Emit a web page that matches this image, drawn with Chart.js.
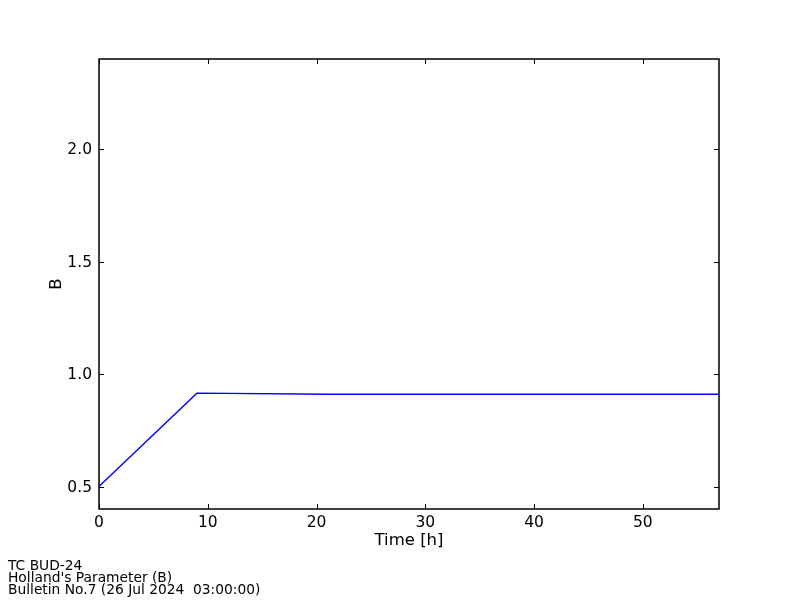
<!DOCTYPE html>
<html>
<head>
<meta charset="utf-8">
<script src="https://cdn.jsdelivr.net/npm/chart.js@4/dist/chart.umd.min.js"></script>
<style>
  html, body { margin: 0; padding: 0; background: #ffffff; }
  #wrap { width: 800px; height: 600px; position: relative; }
</style>
</head>
<body>
<div id="wrap"><canvas id="c" width="800" height="600"></canvas></div>
<script>
// ---- data ----
const timeHours = [0, 9, 21, 33, 45, 57];
const hollandB  = [0.50, 0.915, 0.91, 0.91, 0.91, 0.91];
const xTickValues = [0, 10, 20, 30, 40, 50];
const yTickValues = [0.5, 1.0, 1.5, 2.0];
const yTickLabels = ["0.5", "1.0", "1.5", "2.0"];
const xAxisTitle = "Time [h]";
const yAxisTitle = "B";
const footerLines = ["TC BUD-24", "Holland's Parameter (B)", "Bulletin No.7 (26 Jul 2024  03:00:00)"];

const FONT = "'DejaVu Sans', sans-serif";

const framePlugin = {
  id: 'frame',
  afterDatasetsDraw(chart) {
    const {ctx, chartArea: a, scales} = chart;
    ctx.save();
    ctx.strokeStyle = '#000';
    ctx.lineWidth = 1;
    const tl = 5;
    ctx.beginPath();
    xTickValues.forEach(v => {
      const px = Math.round(scales.x.getPixelForValue(v)) + 0.5;
      ctx.moveTo(px, a.bottom); ctx.lineTo(px, a.bottom - tl);
      ctx.moveTo(px, a.top); ctx.lineTo(px, a.top + tl);
    });
    yTickValues.forEach(v => {
      const py = Math.round(scales.y.getPixelForValue(v)) + 0.5;
      ctx.moveTo(a.left, py); ctx.lineTo(a.left + tl, py);
      ctx.moveTo(a.right, py); ctx.lineTo(a.right - tl, py);
    });
    ctx.stroke();
    ctx.lineWidth = 1.5;
    ctx.strokeRect(a.left, a.top, a.right - a.left, a.bottom - a.top);
    ctx.restore();
  },
  afterDraw(chart) {
    const ctx = chart.ctx;
    ctx.save();
    ctx.fillStyle = '#000';
    ctx.font = "13.8px " + FONT;
    ctx.textAlign = 'left';
    ctx.textBaseline = 'alphabetic';
    footerLines.forEach((t, i) => ctx.fillText(t, 8, 569.5 + i * 12));
    ctx.restore();
  }
};

new Chart(document.getElementById('c'), {
  type: 'line',
  data: {
    datasets: [{
      data: timeHours.map((t, i) => ({x: t, y: hollandB[i]})),
      borderColor: '#0000ff',
      borderWidth: 1.4,
      pointRadius: 0,
      tension: 0,
      fill: false
    }]
  },
  options: {
    responsive: false,
    animation: false,
    devicePixelRatio: 1,
    layout: { padding: { left: 47, right: 81, top: 59, bottom: 49 } },
    plugins: { legend: { display: false }, tooltip: { enabled: false } },
    scales: {
      x: {
        type: 'linear', min: 0, max: 57,
        grid: { display: false, drawTicks: false },
        border: { display: false },
        afterBuildTicks(s) { s.ticks = xTickValues.map(v => ({value: v})); },
        afterFit(s) { s.height = 42; },
        ticks: { color: '#000', font: { family: FONT, size: 15.5 }, padding: 5, maxRotation: 0,
                 callback: v => String(v) },
        title: { display: true, text: xAxisTitle, color: '#000', font: { family: FONT, size: 16.5 }, padding: 0 }
      },
      y: {
        type: 'linear', min: 0.4, max: 2.4,
        grid: { display: false, drawTicks: false },
        border: { display: false },
        afterBuildTicks(s) { s.ticks = yTickValues.map(v => ({value: v})); },
        afterFit(s) { s.width = 52; },
        ticks: { color: '#000', font: { family: FONT, size: 15.5 }, padding: 7, labelOffset: 1,
                 callback: (v) => { const i = yTickValues.indexOf(v); return i >= 0 ? yTickLabels[i] : ''; } },
        title: { display: true, text: yAxisTitle, color: '#000', font: { family: FONT, size: 16.5 }, padding: 0 }
      }
    }
  },
  plugins: [framePlugin]
});
</script>
</body>
</html>
